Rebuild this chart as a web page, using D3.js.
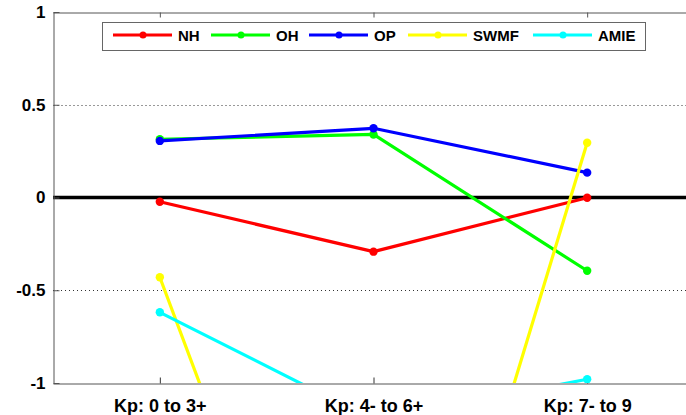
<!DOCTYPE html>
<html>
<head>
<meta charset="utf-8">
<script src="https://cdn.jsdelivr.net/npm/d3@7"></script>
<style>
  body { margin: 0; background: #fff; }
  svg { display: block; }
  text { font-family: "Liberation Sans", Arial, sans-serif; font-weight: bold; }
</style>
</head>
<body>
<svg id="chart" width="686" height="415"></svg>
<script>
const categories = ["Kp: 0 to 3+", "Kp: 4- to 6+", "Kp: 7- to 9"];
const seriesNames = ["NH", "OH", "OP", "SWMF", "AMIE"];
const seriesColors = ["#ff0000", "#00ff00", "#0000ff", "#ffff00", "#00ffff"];
const NH   = [-0.023, -0.292, -0.001];
const OH   = [0.314, 0.34, -0.395];
const OP   = [0.305, 0.373, 0.134];
const SWMF = [-0.43, -3.5, 0.295];
const AMIE = [-0.619, -1.2, -0.98];
const yTicks = [-1, -0.5, 0, 0.5, 1];
const yTickLabels = ["-1", "-0.5", "0", "0.5", "1"];
const gridValues = [0.5, -0.5];

const seriesValues = [NH, OH, OP, SWMF, AMIE];

const svg = d3.select("#chart");
const mLeft = 53, mRight = 694, mTop = 12, mBottom = 383;

const x = d3.scaleLinear().domain([0.5, 3.5]).range([mLeft, mRight]);
const y = d3.scaleLinear().domain([-1, 1]).range([mBottom, mTop]);

svg.append("defs").append("clipPath").attr("id", "clip")
  .append("rect").attr("x", mLeft).attr("y", mTop)
  .attr("width", mRight - mLeft).attr("height", mBottom - mTop);

// grid lines
gridValues.forEach((g, i) => {
  svg.append("line")
    .attr("x1", mLeft).attr("x2", mRight)
    .attr("y1", Math.round(y(g)) + 0.5).attr("y2", Math.round(y(g)) + 0.5)
    .attr("stroke", i === 0 ? "#999" : "#333")
    .attr("stroke-width", 1)
    .attr("stroke-dasharray", i === 0 ? "2,2" : "1,3");
});

// zero line
svg.append("line")
  .attr("x1", mLeft).attr("x2", mRight)
  .attr("y1", y(0)).attr("y2", y(0))
  .attr("stroke", "#000").attr("stroke-width", 3.3);

// y axis
const yAxis = d3.axisLeft(y).tickValues(yTicks)
  .tickFormat((d, i) => yTickLabels[i]).tickSizeInner(-6).tickSizeOuter(0).tickPadding(8);
const gy = svg.append("g").attr("transform", `translate(${mLeft + 0.5},0)`).call(yAxis);
gy.select(".domain").attr("stroke", "#555");
gy.selectAll(".tick line").attr("stroke", "#555");
gy.selectAll(".tick text").attr("font-size", 17).attr("fill", "#000")
  .attr("font-family", '"Liberation Sans", Arial, sans-serif').attr("font-weight", "bold");

// x axis bottom
const xAxis = d3.axisBottom(x).tickValues([1, 2, 3])
  .tickFormat((d, i) => categories[i]).tickSizeInner(-6).tickSizeOuter(0).tickPadding(16);
const gx = svg.append("g").attr("transform", `translate(0,${mBottom + 0.5})`).call(xAxis);
gx.select(".domain").attr("stroke", "#555");
gx.selectAll(".tick line").attr("stroke", "#333");
gx.selectAll(".tick text").attr("font-size", 18).attr("fill", "#000")
  .attr("font-family", '"Liberation Sans", Arial, sans-serif').attr("font-weight", "bold");

// top axis
const xTop = d3.axisTop(x).tickValues([1, 2, 3]).tickFormat("").tickSizeInner(-5).tickSizeOuter(0);
const gt = svg.append("g").attr("transform", `translate(0,${mTop + 0.5})`).call(xTop);
gt.select(".domain").attr("stroke", "#555");
gt.selectAll(".tick line").attr("stroke", "#555");

// data
const plot = svg.append("g").attr("clip-path", "url(#clip)");
const line = d3.line().x((d, i) => x(i + 1)).y(d => y(d));
seriesValues.forEach((vals, s) => {
  plot.append("path").datum(vals)
    .attr("d", line).attr("fill", "none")
    .attr("stroke", seriesColors[s]).attr("stroke-width", 3.2)
    .attr("stroke-linejoin", "round");
  plot.selectAll(null).data(vals).enter().append("circle")
    .attr("cx", (d, i) => x(i + 1)).attr("cy", d => y(d))
    .attr("r", 4.2).attr("fill", seriesColors[s]);
});

// legend
const lg = svg.append("g");
lg.append("rect").attr("x", 102.5).attr("y", 22.5).attr("width", 543).attr("height", 28)
  .attr("fill", "#fff").attr("stroke", "#666").attr("stroke-width", 1);
const legendX = [113, 211, 309, 408, 533];
seriesNames.forEach((name, s) => {
  const lx = legendX[s], ly = 35;
  lg.append("line").attr("x1", lx).attr("x2", lx + 59).attr("y1", ly).attr("y2", ly)
    .attr("stroke", seriesColors[s]).attr("stroke-width", 3);
  lg.append("circle").attr("cx", lx + 30).attr("cy", ly).attr("r", 3.5).attr("fill", seriesColors[s]);
  lg.append("text").attr("x", lx + 65).attr("y", ly + 6).attr("font-size", 15)
    .attr("fill", "#000").text(name);
});
</script>
</body>
</html>
